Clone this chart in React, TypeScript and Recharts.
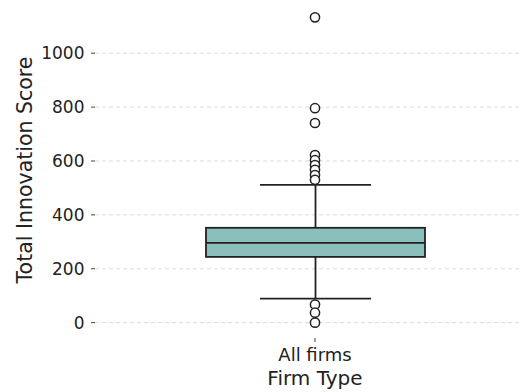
import React from "react";
import { ComposedChart, Bar, Scatter, XAxis, YAxis, CartesianGrid } from "recharts";

// box-plot summary
const categories = ["All firms"];
const whiskerLow = [89];
const q1 = [244];
const median = [296];
const q3 = [352];
const whiskerHigh = [511];
const outliers = [1133, 796, 741, 622, 603, 585, 567, 548, 530, 67, 37, 0];
const yTicks = [0, 200, 400, 600, 800, 1000];

const data = categories.map((name, i) => ({
  name,
  lo: whiskerLow[i],
  q1: q1[i],
  median: median[i],
  q3: q3[i],
  hi: whiskerHigh[i],
}));

const outlierData = outliers.map((v) => ({ name: categories[0], value: v }));

const INK = "#222";
const TXT = "#222";
const FONT = "'DejaVu Sans', sans-serif";

// whisker range bar; box and median placed by linear position within it
function BoxShape(props: any) {
  const { x, y, width, height, payload } = props;
  const span = payload.hi - payload.lo;
  const py = (v: number) => y + (height * (payload.hi - v)) / span;
  const cx = x + width / 2;
  const cap = width * 0.507;
  return (
    <g>
      <line x1={cx} x2={cx} y1={py(payload.hi)} y2={py(payload.q3)} stroke={INK} strokeWidth={1.8} />
      <line x1={cx} x2={cx} y1={py(payload.q1)} y2={py(payload.lo)} stroke={INK} strokeWidth={1.8} />
      <line x1={cx - cap / 2} x2={cx + cap / 2} y1={py(payload.hi)} y2={py(payload.hi)} stroke={INK} strokeWidth={1.8} />
      <line x1={cx - cap / 2} x2={cx + cap / 2} y1={py(payload.lo)} y2={py(payload.lo)} stroke={INK} strokeWidth={1.8} />
      <rect x={x} y={py(payload.q3)} width={width} height={py(payload.q1) - py(payload.q3)} fill="#8bbfbb" stroke={INK} strokeWidth={1.8} />
      <line x1={x} x2={x + width} y1={py(payload.median)} y2={py(payload.median)} stroke={INK} strokeWidth={1.8} />
    </g>
  );
}

function Ring(props: any) {
  const { cx, cy } = props;
  return <circle cx={cx} cy={cy} r={4.6} fill="#fff" stroke={INK} strokeWidth={1.5} />;
}

export default function App() {
  return (
    <div style={{ position: "absolute", left: 0, top: 0, width: 522, height: 392, overflow: "hidden", background: "#fff" }}>
      <ComposedChart width={540} height={392} data={data} margin={{ top: 2, right: 5, bottom: 0, left: 0 }}>
        <CartesianGrid vertical={false} horizontalValues={yTicks} stroke="#dcdcdc" strokeDasharray="4 3" />
        <XAxis
          dataKey="name"
          allowDuplicatedCategory={false}
          height={54}
          axisLine={false}
          tickSize={4}
          tickMargin={6}
          tickLine={{ stroke: "#444" }}
          tick={{ fontSize: 18, fill: TXT, fontFamily: FONT }}
          label={{
            content: (p: any) => (
              <text x={p.viewBox.x + p.viewBox.width / 2} y={385} textAnchor="middle" fontSize={20} fill={TXT} fontFamily={FONT}>
                Firm Type
              </text>
            ),
          }}
        />
        <YAxis
          width={95}
          domain={[-57, 1190]}
          ticks={yTicks}
          axisLine={false}
          tickSize={4}
          tickMargin={6.5}
          tickLine={{ stroke: "#444" }}
          tick={{ fontSize: 17, fill: TXT, fontFamily: FONT }}
          label={{
            content: (p: any) => {
              const cy = p.viewBox.y + p.viewBox.height / 2;
              return (
                <text x={25} y={cy} transform={`rotate(-90 25 ${cy})`} textAnchor="middle" dominantBaseline="central" fontSize={20.5} fill={TXT} fontFamily={FONT}>
                  Total Innovation Score
                </text>
              );
            },
          }}
        />
        <Bar dataKey={(d: any) => [d.lo, d.hi]} barSize={219} shape={<BoxShape />} isAnimationActive={false} />
        <Scatter data={outlierData} dataKey="value" shape={<Ring />} isAnimationActive={false} />
      </ComposedChart>
    </div>
  );
}
